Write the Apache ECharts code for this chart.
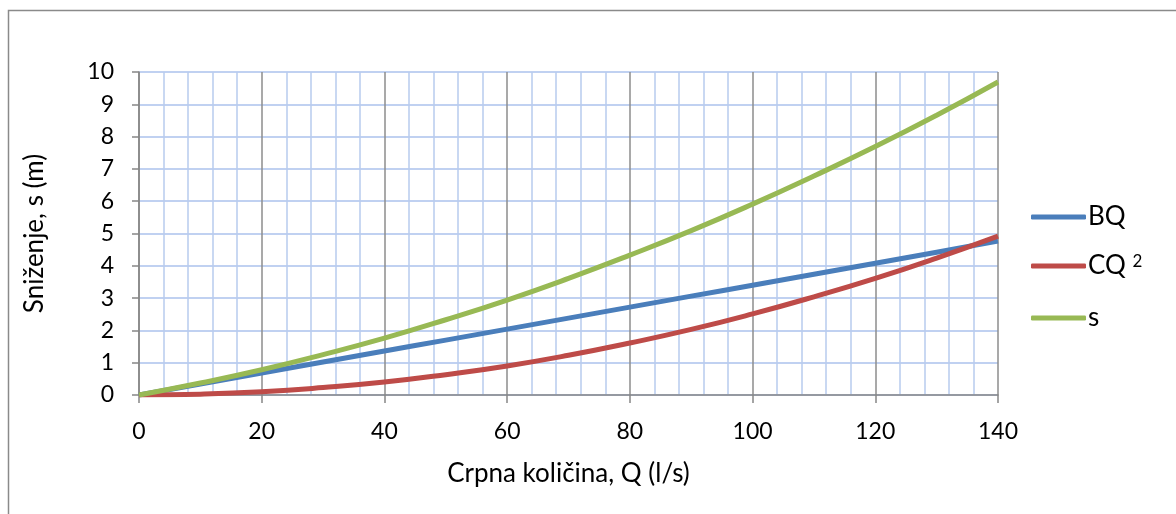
<!DOCTYPE html>
<html>
<head>
<meta charset="utf-8">
<script src="https://cdn.jsdelivr.net/npm/echarts@6/dist/echarts.min.js"></script>
<style>
html,body{margin:0;padding:0;background:#fff;}
#c{width:1176px;height:514px;}
</style>
</head>
<body>
<div id="c"></div>
<script>
var qValues = [0,10,20,30,40,50,60,70,80,90,100,110,120,130,140];
var bqValues = [0,0.34,0.68,1.02,1.36,1.70,2.04,2.38,2.72,3.06,3.40,3.74,4.08,4.42,4.77];
var cq2Values = [0,0.025,0.10,0.23,0.40,0.63,0.90,1.23,1.61,2.03,2.51,3.04,3.61,4.24,4.92];
var sValues = [0,0.37,0.78,1.25,1.76,2.33,2.94,3.61,4.33,5.09,5.91,6.78,7.69,8.66,9.69];
var seriesNames = ['BQ','CQ2','s'];
var xTitle = 'Crpna količina, Q (l/s)';
var yTitle = 'Sniženje, s (m)';

function pairs(ys){ return qValues.map(function(q,i){return [q, ys[i]];}); }

var font = 'Lato, "Open Sans", "Noto Sans", sans-serif';
var chart = echarts.init(document.getElementById('c'));
chart.setOption({
  animation:false,
  backgroundColor:'#fff',
  textStyle:{fontFamily:font},
  graphic:[{type:'rect', shape:{x:8.5,y:10.5,width:1200,height:600}, style:{fill:'none', stroke:'#8a8a8a', lineWidth:1.5}, silent:true}],
  grid:{left:139, right:178, top:72, bottom:119},
  xAxis:{
    type:'value', min:0, max:140, interval:20,
    name:xTitle, nameLocation:'middle', nameGap:66,
    nameTextStyle:{fontSize:26, color:'#000', fontFamily:font},
    axisLine:{show:true, lineStyle:{color:'#868686', width:1.5}},
    axisTick:{show:true, length:8, lineStyle:{color:'#868686', width:1.5}},
    axisLabel:{fontSize:23, color:'#000', margin:25, fontFamily:font},
    splitLine:{show:true, lineStyle:{color:'#8c8c8c', width:1.5}},
    minorTick:{show:false, splitNumber:5},
    minorSplitLine:{show:true, lineStyle:{color:'#b8cbee', width:1.5}}
  },
  yAxis:{
    type:'value', min:0, max:10, interval:1,
    name:yTitle, nameLocation:'middle', nameGap:91, nameRotate:90,
    nameTextStyle:{fontSize:26, color:'#000', fontFamily:font},
    axisLine:{show:true, lineStyle:{color:'#868686', width:1.5}},
    axisTick:{show:true, length:7, lineStyle:{color:'#868686', width:1.5}},
    axisLabel:{fontSize:23, color:'#000', margin:25, fontFamily:font},
    splitLine:{show:true, lineStyle:{color:'#abc2ec', width:1.5}}
  },
  legend:{
    orient:'vertical', left:1026, top:199, itemWidth:55, itemHeight:5, itemGap:23,
    icon:'roundRect',
    textStyle:{fontSize:26, color:'#000', fontFamily:font, lineHeight:26, padding:[0,0,0,-3],
      rich:{n:{fontSize:26, lineHeight:26, fontFamily:font, color:'#000'}, sup:{fontSize:17, lineHeight:26, fontFamily:font, color:'#000', verticalAlign:'top', padding:[0,0,12,0]}}},
    formatter:function(n){ return n==='CQ2' ? '{n|CQ }{sup|2}' : '{n|'+n+'}'; },
    data:seriesNames
  },
  series:[
    {name:'BQ', type:'line', smooth:true, symbol:'none', data:pairs(bqValues), lineStyle:{color:'#4a7ebb', width:5}, itemStyle:{color:'#4a7ebb'}, z:3},
    {name:'CQ2', type:'line', smooth:true, symbol:'none', data:pairs(cq2Values), lineStyle:{color:'#be4b48', width:5}, itemStyle:{color:'#be4b48'}, z:4},
    {name:'s', type:'line', smooth:true, symbol:'none', data:pairs(sValues), lineStyle:{color:'#98b954', width:5}, itemStyle:{color:'#98b954'}, z:5}
  ]
});
</script>
</body>
</html>
